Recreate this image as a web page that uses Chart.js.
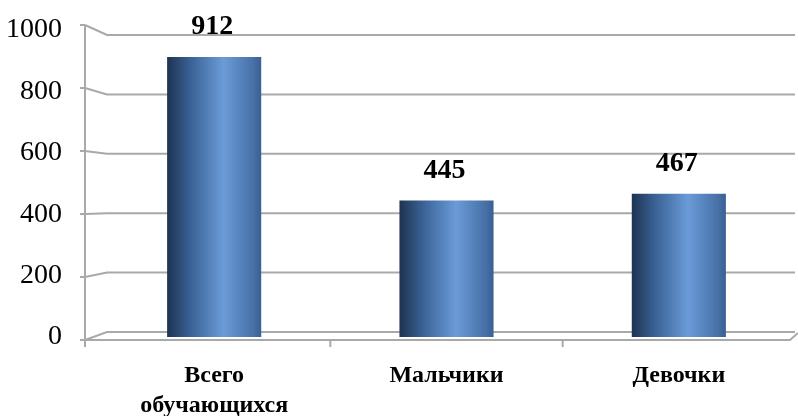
<!DOCTYPE html>
<html>
<head>
<meta charset="utf-8">
<script src="https://cdn.jsdelivr.net/npm/chart.js@4"></script>
<style>
  html, body { margin: 0; padding: 0; background: #fff; }
  #wrap { width: 798px; height: 416px; }
</style>
</head>
<body>
<div id="wrap"><canvas id="grafico"></canvas></div>
<script>
// dados
const categorias = [["Всего", "обучающихся"], "Мальчики", "Девочки"];
const valores = [912, 445, 467];
const ticksY = [0, 200, 400, 600, 800, 1000];

const corGrade = "#a9a9a9";
const fonteSerif = "'Liberation Serif', 'Times New Roman', serif";

// paredes e chão em "3D" desenhados a partir das escalas
const parede3d = {
    id: "parede3d",
    beforeDatasetsDraw(chart) {
        const ctx = chart.ctx;
        const y = chart.scales.y;
        const x = chart.scales.x;
        const area = chart.chartArea;
        const frenteX = 85, fundoX = 107;
        const fundo = v => y.getPixelForValue(v) - 5 + 10 * v / 1000;
        const frente = v => y.getPixelForValue(v) + 3 - 8 * v / 1000;

        ctx.save();
        ctx.strokeStyle = corGrade;
        ctx.lineWidth = 2;
        ticksY.forEach(v => {
            ctx.beginPath();
            ctx.moveTo(frenteX, frente(v));
            ctx.lineTo(fundoX, fundo(v));
            ctx.lineTo(area.right, fundo(v));
            ctx.stroke();
            // marca do eixo
            ctx.beginPath();
            ctx.moveTo(frenteX - 5, frente(v));
            ctx.lineTo(frenteX, frente(v));
            ctx.stroke();
        });
        // eixo vertical da frente
        ctx.beginPath();
        ctx.moveTo(frenteX, frente(1000));
        ctx.lineTo(frenteX, frente(0));
        ctx.stroke();
        // chão: borda da frente e lado direito
        ctx.beginPath();
        ctx.moveTo(frenteX, frente(0));
        ctx.lineTo(area.right - 5, frente(0));
        ctx.lineTo(area.right + 3, fundo(0) + 1);
        ctx.stroke();
        // marcas entre categorias
        const n = categorias.length;
        for (let i = 0; i < n; i++) {
            const bx = i === 0 ? frenteX : (x.getPixelForValue(i - 1) + x.getPixelForValue(i)) / 2;
            ctx.beginPath();
            ctx.moveTo(bx, frente(0));
            ctx.lineTo(bx, frente(0) + 7);
            ctx.stroke();
        }
        ctx.restore();
    },
    afterDatasetsDraw(chart) {
        const ctx = chart.ctx;
        const meta = chart.getDatasetMeta(0);
        ctx.save();
        ctx.font = "bold 28px " + fonteSerif;
        ctx.fillStyle = "#000";
        ctx.textAlign = "center";
        ctx.textBaseline = "middle";
        meta.data.forEach((bar, i) => {
            ctx.fillText(String(valores[i]), bar.x - 2, bar.y - 30);
        });
        ctx.restore();
    }
};

function gradienteBarra(context) {
    const chart = context.chart;
    const xs = chart.scales.x;
    if (!xs || !chart.chartArea) return "#4f81bd";
    const i = context.dataIndex;
    const centro = xs.getPixelForValue(i);
    const meia = (xs.width / categorias.length) * 0.405 / 2;
    const g = chart.ctx.createLinearGradient(centro - meia, 0, centro + meia, 0);
    g.addColorStop(0, "#1d3350");
    g.addColorStop(0.25, "#3a6296");
    g.addColorStop(0.6, "#6b9bd8");
    g.addColorStop(0.92, "#4670a6");
    g.addColorStop(1, "#3a5f92");
    return g;
}

new Chart(document.getElementById("grafico"), {
    type: "bar",
    data: {
        labels: categorias,
        datasets: [{
            data: valores,
            backgroundColor: gradienteBarra,
            borderWidth: 0,
            categoryPercentage: 0.81,
            barPercentage: 0.5
        }]
    },
    options: {
        responsive: true,
        maintainAspectRatio: false,
        animation: false,
        layout: { padding: { top: 30, right: 3, left: 0, bottom: 0 } },
        plugins: {
            legend: { display: false },
            tooltip: { enabled: false }
        },
        scales: {
            x: {
                grid: { display: false },
                border: { display: false },
                ticks: {
                    color: "#000",
                    padding: 16,
                    maxRotation: 0,
                    autoSkip: false,
                    font: { family: fonteSerif, size: 24, weight: "bold", lineHeight: 1.25 }
                },
                afterFit: s => {
                    s.height = 79;
                    s.paddingLeft = 0;
                    s.paddingRight = 0;
                }
            },
            y: {
                min: 0,
                max: 1000,
                grid: { display: false, drawTicks: false },
                border: { display: false },
                afterBuildTicks: s => { s.ticks = ticksY.map(v => ({ value: v })); },
                ticks: {
                    color: "#000",
                    padding: 36,
                    font: { family: fonteSerif, size: 28 },
                    callback: v => String(v)
                },
                afterFit: s => {
                    s.width = 98;
                    s.paddingTop = 0;
                    s.paddingBottom = 0;
                }
            }
        }
    },
    plugins: [parede3d]
});
</script>
</body>
</html>
